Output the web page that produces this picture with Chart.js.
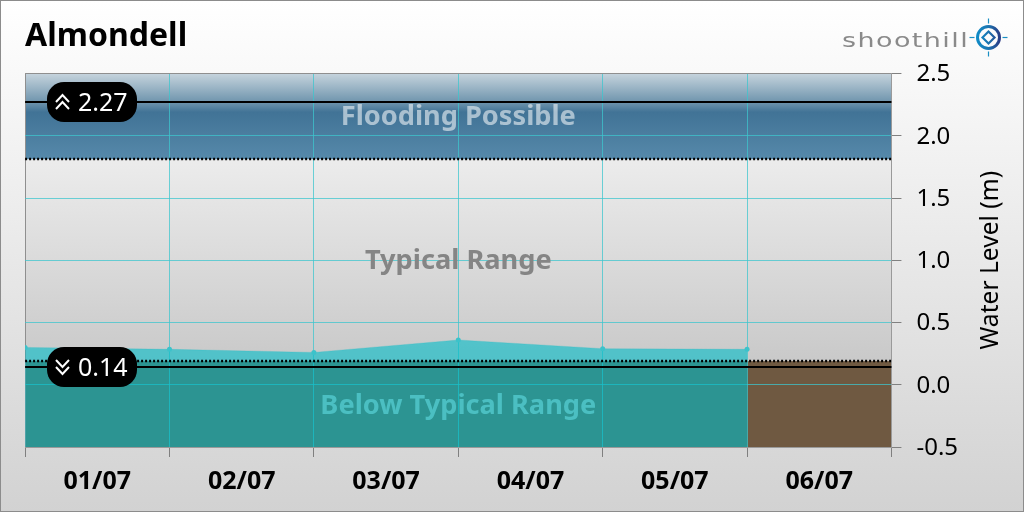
<!DOCTYPE html>
<html>
<head>
<meta charset="utf-8">
<title>Almondell</title>
<style>
html, body { margin: 0; padding: 0; }
#wrap {
    position: relative; width: 1024px; height: 512px; box-sizing: border-box;
    border: 1px solid #8c8c8c; overflow: hidden;
    background: linear-gradient(#ffffff, #d2d2d2);
}
canvas { position: absolute; left: -1px; top: -1px; }
</style>
<script src="https://cdn.jsdelivr.net/npm/chart.js@4"></script>
</head>
<body>
<div id="wrap"><canvas id="chartCanvas" width="1024" height="512"></canvas></div>
<script>
const stationName = "Almondell";
const dayLabels = ["01/07", "02/07", "03/07", "04/07", "05/07", "06/07"];
const dayPositions = [0, 1, 2, 3, 4, 5];
const waterLevels = [0.30, 0.285, 0.26, 0.36, 0.29, 0.285];
const yRange = [-0.5, 2.5];
const xRange = [0, 6];
const typicalBounds = [0.19, 1.81];
const recordLevels = [2.27, 0.14];
const bandNames = ["Flooding Possible", "Typical Range", "Below Typical Range"];
const bandNameLevels = [2.145, 0.99, -0.175];

const font = '"Noto Sans"';
const gridTeal = "rgba(62,198,205,0.75)";
const frameGrey = "#8f8f8f";

const bandsPlugin = {
    id: "bands",
    beforeDraw(chart) {
        const { ctx, chartArea: a, scales: { y } } = chart;
        const hi = y.getPixelForValue(typicalBounds[1]);
        const lo = y.getPixelForValue(typicalBounds[0]);
        const w = a.right - a.left;
        ctx.save();

        let g = ctx.createLinearGradient(0, a.top, 0, hi);
        g.addColorStop(0, "#c6d4dd");
        g.addColorStop(0.34, "#6d93ac");
        g.addColorStop(0.45, "#417396");
        g.addColorStop(1, "#5689aa");
        ctx.fillStyle = g;
        ctx.fillRect(a.left, a.top, w, hi - a.top);

        g = ctx.createLinearGradient(0, hi, 0, lo);
        g.addColorStop(0, "#ececec");
        g.addColorStop(1, "#c9c9c9");
        ctx.fillStyle = g;
        ctx.fillRect(a.left, hi, w, lo - hi);

        ctx.fillStyle = "#6f5941";
        ctx.fillRect(a.left, lo, w, a.bottom - lo);
        ctx.restore();
    },
    afterDatasetsDraw(chart) {
        const { ctx, chartArea: a, scales: { y } } = chart;
        ctx.save();

        // threshold dots
        ctx.strokeStyle = "#000";
        ctx.lineWidth = 2.5;
        ctx.setLineDash([2, 2]);
        typicalBounds.forEach(v => {
            const py = Math.round(y.getPixelForValue(v));
            ctx.beginPath();
            ctx.moveTo(a.left, py);
            ctx.lineTo(a.right, py);
            ctx.stroke();
        });
        ctx.setLineDash([]);

        // band names
        ctx.font = "bold 27.2px " + font;
        ctx.textAlign = "center";
        ctx.textBaseline = "middle";
        const nameColours = ["rgba(255,255,255,0.55)", "#858585", "#4bbfc2"];
        bandNames.forEach((name, i) => {
            ctx.fillStyle = nameColours[i];
            ctx.fillText(name, (a.left + a.right) / 2, y.getPixelForValue(bandNameLevels[i]));
        });

        // highest / lowest on record
        recordLevels.forEach((v, i) => {
            const py = Math.round(y.getPixelForValue(v));
            ctx.strokeStyle = "#000";
            ctx.lineWidth = 2;
            ctx.beginPath();
            ctx.moveTo(a.left, py);
            ctx.lineTo(a.right, py);
            ctx.stroke();

            ctx.fillStyle = "#000";
            ctx.beginPath();
            ctx.roundRect(47, py - 20, 90, 40, 17);
            ctx.fill();

            ctx.strokeStyle = "#fff";
            ctx.lineWidth = 2;
            const dir = i === 0 ? -1 : 1;
            [-3.5, 3.5].forEach(off => {
                ctx.beginPath();
                ctx.moveTo(56, py + off - dir * 3.5);
                ctx.lineTo(62.5, py + off + dir * 3.5);
                ctx.lineTo(69, py + off - dir * 3.5);
                ctx.stroke();
            });

            ctx.fillStyle = "#fff";
            ctx.font = "25px " + font;
            ctx.textAlign = "left";
            ctx.textBaseline = "middle";
            ctx.fillText(v.toFixed(2), 78, py + 1.5);
        });
        ctx.restore();
    },
    afterDraw(chart) {
        const { ctx, chartArea: a } = chart;
        ctx.save();

        // y axis title
        ctx.translate(991, (a.top + a.bottom) / 2);
        ctx.rotate(-Math.PI / 2);
        ctx.fillStyle = "#000";
        ctx.font = "24.6px " + font;
        ctx.textAlign = "center";
        ctx.textBaseline = "middle";
        ctx.fillText("Water Level (m)", 0, 0);
        ctx.restore();

        // logo
        ctx.save();
        ctx.translate(842, 47);
        ctx.scale(1.42, 1);
        ctx.fillStyle = "#8a8a8a";
        ctx.font = "19px 'DejaVu Sans'";
        ctx.letterSpacing = "1px";
        ctx.textAlign = "left";
        ctx.textBaseline = "alphabetic";
        ctx.fillText("shoothill", 0, 0);
        ctx.restore();

        ctx.save();
        const cx = 988.5, cy = 37.5;
        const ring = ctx.createLinearGradient(cx - 12, cy, cx + 12, cy);
        ring.addColorStop(0, "#0f8cc8");
        ring.addColorStop(0.5, "#1c74b0");
        ring.addColorStop(1, "#2a3a84");
        ctx.strokeStyle = ring;
        ctx.lineWidth = 3;
        ctx.beginPath();
        ctx.arc(cx, cy, 11, 0, Math.PI * 2);
        ctx.stroke();
        ctx.lineWidth = 2.2;
        ctx.beginPath();
        ctx.moveTo(cx - 6, cy);
        ctx.lineTo(cx, cy - 6);
        ctx.lineTo(cx + 6, cy);
        ctx.lineTo(cx, cy + 6);
        ctx.closePath();
        ctx.stroke();
        ctx.strokeStyle = "#1a8fc4";
        ctx.lineWidth = 1.2;
        [[0, -1], [0, 1], [-1, 0], [1, 0]].forEach(d => {
            ctx.beginPath();
            ctx.moveTo(cx + d[0] * 14, cy + d[1] * 14);
            ctx.lineTo(cx + d[0] * 19, cy + d[1] * 19);
            ctx.stroke();
        });
        ctx.restore();
    }
};

const chart = new Chart(document.querySelector("#chartCanvas"), {
    type: "line",
    plugins: [bandsPlugin],
    data: {
        labels: dayLabels,
        datasets: [
            {
                label: "Water Level",
                data: dayPositions.map((d, i) => ({ x: d, y: waterLevels[i] })),
                xAxisID: "x2",
                yAxisID: "y",
                fill: "start",
                backgroundColor: "rgba(0,188,200,0.6)",
                borderColor: "rgba(0,188,200,0.2)",
                borderWidth: 1,
                pointRadius: 2.5,
                pointBackgroundColor: "#3cc2ca",
                pointBorderWidth: 0,
                tension: 0,
            },
        ],
    },
    options: {
        responsive: false,
        animation: false,
        devicePixelRatio: 1,
        layout: { padding: { left: 25.1, right: 0, top: 0, bottom: 0 } },
        plugins: {
            legend: { display: false },
            tooltip: { enabled: false },
            title: {
                display: true,
                text: stationName,
                align: "start",
                color: "#000",
                font: { family: font, size: 32, weight: "bold", lineHeight: 1.2 },
                padding: { top: 17.8, bottom: 17.3 },
            },
        },
        scales: {
            x: {
                type: "category",
                offset: true,
                border: { color: "#9a9a9a" },
                grid: {
                    offset: true,
                    color: c => c.index === 0 ? frameGrey : gridTeal,
                    tickColor: "#808080",
                    tickLength: 10,
                    lineWidth: 1,
                },
                ticks: { color: "#000", padding: 10, maxRotation: 0, font: { family: font, size: 25, weight: "bold" } },
                afterFit(scale) { scale.height = 65; },
            },
            x2: {
                type: "linear",
                display: false,
                min: xRange[0],
                max: xRange[1],
            },
            y: {
                position: "right",
                min: yRange[0],
                max: yRange[1],
                border: { color: "#9a9a9a" },
                grid: {
                    color: c => c.tick && c.tick.value === yRange[1] ? frameGrey : gridTeal,
                    tickColor: "#808080",
                    tickLength: 10,
                    lineWidth: 1,
                },
                ticks: {
                    stepSize: 0.5,
                    color: "#000",
                    padding: 15,
                    labelOffset: 1,
                    font: { family: font, size: 24 },
                    callback: v => v.toFixed(1),
                },
                afterFit(scale) { scale.width = 132.55; },
            },
        },
    },
});
</script>
</body>
</html>
